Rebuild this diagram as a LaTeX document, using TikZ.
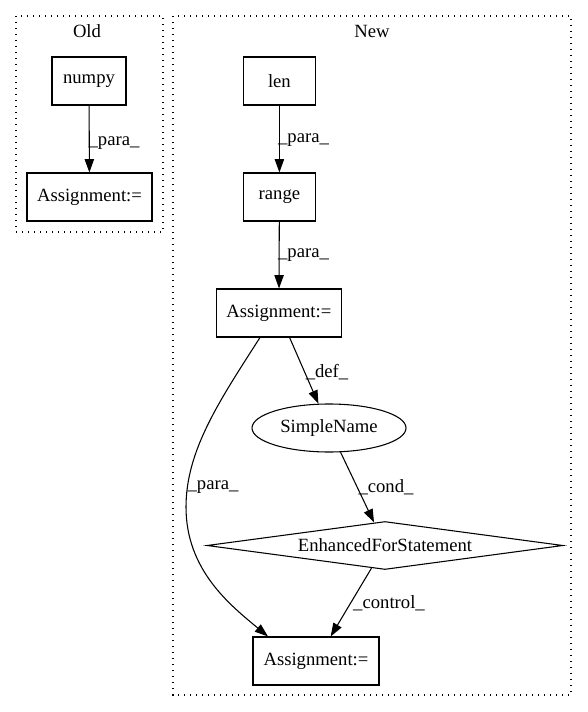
\documentclass[tikz,border=0pt]{standalone}
\usepackage{fontspec}
\setmainfont{Liberation Serif}
\usetikzlibrary{shapes.geometric,arrows.meta}
\begin{document}
\begin{tikzpicture}[x=0.75pt,y=-0.75pt,
  every node/.style={font=\fontsize{14pt}{16pt}\selectfont},
  box/.style={draw,line width=0.8pt,rectangle,inner sep=0pt,minimum height=36pt},
  ell/.style={draw,line width=0.8pt,ellipse,inner sep=0pt,minimum width=115.5pt,minimum height=36pt},
  dia/.style={draw,line width=0.8pt,diamond,aspect=7.4,inner sep=0pt,minimum width=267pt,minimum height=36pt},
  edge/.style={line width=0.8pt,-{Triangle[length=10pt,width=7pt]}},
  lbl/.style={inner sep=0pt},
  cluster/.style={line width=0.8pt,dash pattern=on 1pt off 3.5pt}]
\useasboundingbox (0,0) rectangle (587,712);
% clusters
\draw[cluster] (16,16) rectangle (163,232);
\draw[cluster] (173,16) rectangle (571,695);
\node[lbl] (told) at (87,31) {Old};
\node[lbl] (tnew) at (372,31) {New};
% Old
\node[box,minimum width=55.5pt] (numpy) at (89,81) {numpy};
\node[box,minimum width=93.75pt] (oldA) at (89.5,197) {Assignment:=};
\draw[edge] (numpy) -- (oldA);
\node[lbl] (l1) at (114,143) {\_para\_};
% New
\node[box,minimum width=54pt] (len) at (279.4,81) {len};
\node[box,minimum width=54pt] (range) at (279.4,197) {range};
\node[box,minimum width=93.75pt] (midA) at (278.9,313) {Assignment:=};
\node[ell] (sn) at (329,428) {SimpleName};
\node[dia] (efs) at (385,545.5) {EnhancedForStatement};
\node[box,minimum width=94.5pt] (botA) at (316,661) {Assignment:=};
\draw[edge] (len) -- (range);
\node[lbl] (l2) at (303.5,140) {\_para\_};
\draw[edge] (range) -- (midA);
\node[lbl] (l3) at (303.5,255) {\_para\_};
\draw[edge] (midA) -- (sn);
\node[lbl] (l4) at (327,372) {\_def\_};
\draw[edge] (sn) -- (efs);
\node[lbl] (l5) at (386,487) {\_cond\_};
\draw[edge] (efs) -- (botA);
\node[lbl] (l6) at (389,603) {\_control\_};
\coordinate (mid) at (186,507);
\draw[edge] ([xshift=-14.2pt]midA.south) .. controls (220,400) and (186,450) .. (mid)
   .. controls (186,570) and (230,605) .. ([xshift=-36pt]botA.north);
\node[lbl] (l7) at (213,487) {\_para\_};
\end{tikzpicture}
\end{document}
